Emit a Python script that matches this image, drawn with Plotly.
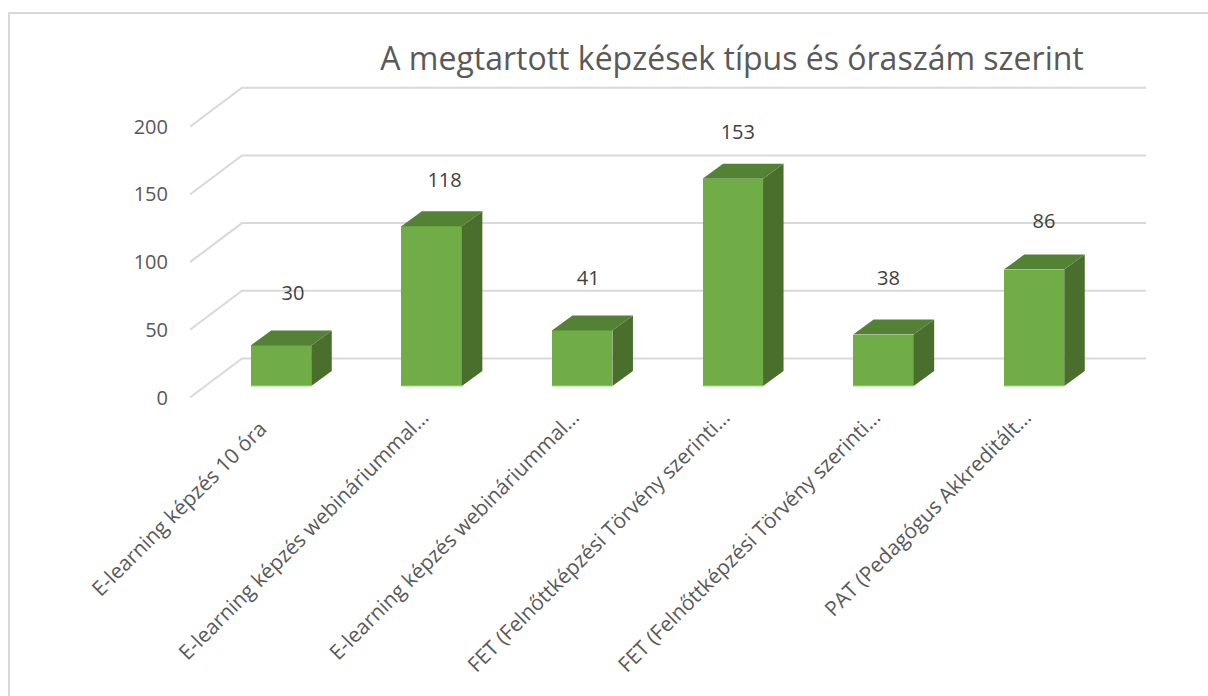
import plotly.graph_objects as go

# --- data ---
title_text = "A megtartott képzések típus és óraszám szerint"
categories = [
    "E-learning képzés 10 óra\u00a0\u00a0\u00a0",
    "E-learning képzés webináriummal…",
    "E-learning képzés webináriummal…",
    "FET (Felnőttképzési Törvény szerinti…",
    "FET (Felnőttképzési Törvény szerinti…",
    "PAT (Pedagógus Akkreditált…",
]
values = [30, 118, 41, 153, 38, 86]
y_ticks = [0, 50, 100, 150, 200]

# --- geometry (pixels on the 1208x696 page) ---
W, H = 1208, 696
PX_PER_UNIT = 1.354
CAT_PX = 150.6
CAT0_PX = 281.0
PLOT_L, PLOT_R, PLOT_T, PLOT_B = 190, 1146, 60, 400
ZERO_FRONT, ZERO_BAR, ZERO_BACK = 397.5, 386.0, 358.5
BAR_PX = 60.5
DEPTH_X_PX, DEPTH_Y_PX = 20.5, 15.0
WALL_X_PX = 52.0
label_gap_px = [50, 44, 50, 45, 55, 47]
label_dx_px = [12, 13, 6, 5, 5, 10]

GRID = "#D9D9D9"
FRONT, TOP, SIDE, EDGE = "#70AD47", "#548235", "#4A6E2B", "#A9D18E"
AXIS_TXT, LABEL_TXT = "#595959", "#404040"
FONT = "Open Sans"

x_lo = (PLOT_L - CAT0_PX) / CAT_PX
x_hi = (PLOT_R - CAT0_PX) / CAT_PX
def y_range(zero):
    return [-(PLOT_B - zero) / PX_PER_UNIT, (zero - PLOT_T) / PX_PER_UNIT]

half = BAR_PX / CAT_PX / 2
dx = DEPTH_X_PX / CAT_PX
dy = DEPTH_Y_PX / PX_PER_UNIT
xs = list(range(len(values)))

fig = go.Figure()

# back wall grid with its diagonal floor/side lines, on the tick axis
wall_dx = WALL_X_PX / CAT_PX
wall_dy = (ZERO_FRONT - ZERO_BACK) / PX_PER_UNIT
gx, gy = [], []
for t in y_ticks:
    gx += [x_lo, x_lo + wall_dx, x_hi, None]
    gy += [t, t + wall_dy, t + wall_dy, None]
fig.add_trace(go.Scatter(x=gx, y=gy, mode="lines", line=dict(color=GRID, width=2),
                         hoverinfo="skip", showlegend=False, yaxis="y", cliponaxis=False))

# column faces, on the axis whose zero is the bar floor
fig.add_trace(go.Bar(x=xs, y=values, width=BAR_PX / CAT_PX, marker=dict(color=FRONT, line=dict(width=0)),
                     yaxis="y2", showlegend=False))
sx, sy, tx, ty, ex, ey = [], [], [], [], [], []
for i, v in zip(xs, values):
    r = i + half
    l = i - half
    sx += [r, r + dx, r + dx, r, r, None]
    sy += [0, dy, v + dy, v, 0, None]
    tx += [l, l + dx, r + dx, r, l, None]
    ty += [v, v + dy, v + dy, v, v, None]
    ex += [l, r, None]
    ey += [0, 0, None]
fig.add_trace(go.Scatter(x=sx, y=sy, mode="lines", fill="toself", fillcolor=SIDE, line=dict(width=0),
                         hoverinfo="skip", showlegend=False, yaxis="y2"))
fig.add_trace(go.Scatter(x=tx, y=ty, mode="lines", fill="toself", fillcolor=TOP, line=dict(width=0),
                         hoverinfo="skip", showlegend=False, yaxis="y2"))
fig.add_trace(go.Scatter(x=ex, y=ey, mode="lines", line=dict(color=EDGE, width=1),
                         hoverinfo="skip", showlegend=False, yaxis="y2"))

# data labels
fig.add_trace(go.Scatter(
    x=[i + d / CAT_PX for i, d in zip(xs, label_dx_px)],
    y=[v + g / PX_PER_UNIT for v, g in zip(values, label_gap_px)],
    text=[str(v) for v in values], mode="text", textposition="middle center",
    textfont=dict(family=FONT, size=20, color=LABEL_TXT),
    hoverinfo="skip", showlegend=False, yaxis="y2", cliponaxis=False))

fig.update_layout(
    width=W, height=H, margin=dict(l=0, r=0, t=0, b=0), autosize=False,
    paper_bgcolor="white", plot_bgcolor="rgba(0,0,0,0)",
    font=dict(family=FONT, color=AXIS_TXT),
    title=dict(text=title_text, x=732 / W, xanchor="center", xref="paper",
               y=1 - 59 / H, yanchor="middle", yref="paper",
               font=dict(family=FONT, size=32, color=AXIS_TXT)),
    bargap=0,
    xaxis=dict(domain=[PLOT_L / W, PLOT_R / W], range=[x_lo, x_hi], tickmode="array",
               tickvals=xs, ticktext=categories, tickangle=-45, showgrid=False, zeroline=False,
               showline=False, ticks="", tickfont=dict(family=FONT, size=20.8, color=AXIS_TXT),
               ticklabelstandoff=0, ticklabelshift=-9, automargin=False),
    yaxis=dict(domain=[1 - PLOT_B / H, 1 - PLOT_T / H], range=y_range(ZERO_FRONT), tickmode="array",
               tickvals=y_ticks, showgrid=False, zeroline=False, showline=False, ticks="",
               tickfont=dict(family=FONT, size=20, color=AXIS_TXT), ticklabelstandoff=21, automargin=False),
    yaxis2=dict(domain=[1 - PLOT_B / H, 1 - PLOT_T / H], range=y_range(ZERO_BAR), overlaying="y",
                anchor="x", side="left", showgrid=False, zeroline=False, showline=False,
                showticklabels=False, ticks=""),
    shapes=[dict(type="path", xref="paper", yref="paper",
                 path=f"M {9/W} 0 L {9/W} {1-13/H} L 1 {1-13/H}",
                 line=dict(color=GRID, width=2), layer="below")],
)

fig.write_html("out.html", post_script="document.body.style.margin='0';document.body.style.overflow='hidden';",
               config=dict(displayModeBar=False))
